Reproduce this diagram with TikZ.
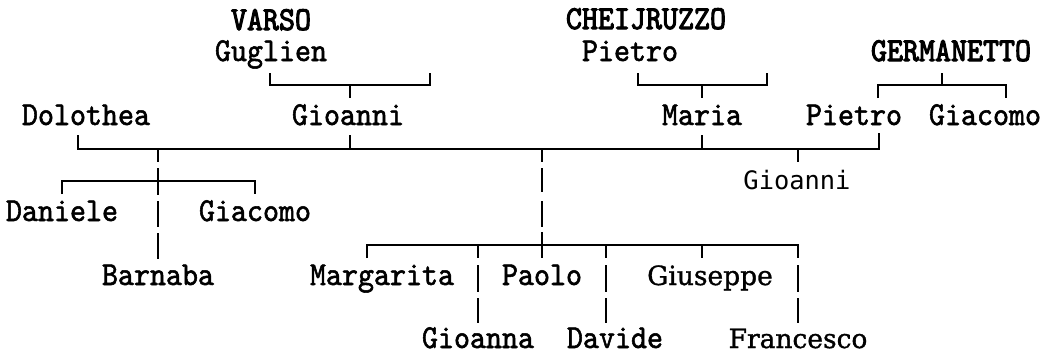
\documentclass[tikz,border=0pt]{standalone}
\usepackage{fontspec}
\newfontfamily\lblmono{lmmono10-regular.otf}[FakeBold=1.6, FakeStretch=0.91]
\newfontfamily\lblcaps{lmmono10-regular.otf}[FakeBold=3, FakeStretch=0.91]
\newfontfamily\lblsans{DejaVu Sans Mono}
\newfontfamily\lblserif{DejaVu Serif}[FakeBold=1.2]
\tikzset{
  lbl/.style={anchor=base, inner sep=0pt, font=\lblmono\fontsize{33.5}{38}\selectfont},
  capslbl/.style={anchor=base, inner sep=0pt, font=\lblcaps\fontsize{33.5}{38}\selectfont},
  sanslbl/.style={anchor=base, inner sep=0pt, font=\lblsans\fontsize{25.4}{30}\selectfont},
  seriflbl/.style={anchor=base, inner sep=0pt, font=\lblserif\fontsize{26.5}{30}\selectfont},
  ln/.style={line width=2pt, line join=miter}
}
\begin{document}
\begin{tikzpicture}[x=1pt,y=-1pt]
\useasboundingbox (0,0) rectangle (1048,354);
% names
\node[capslbl] (varso) at (271,30) {VARSO};
\node[lbl] (guglien) at (271,61) {Guglien};
\node[capslbl] (cheij) at (646,29) {CHEIJRUZZO};
\node[lbl] (pietroC) at (630,61) {Pietro};
\node[capslbl] (germ) at (951,61) {GERMANETTO};
\node[lbl] (dolothea) at (86,125) {Dolothea};
\node[lbl] (gioanniV) at (348,125) {Gioanni};
\node[lbl] (maria) at (702,125) {Maria};
\node[lbl] (pietroG) at (854,125) {Pietro};
\node[lbl] (giacomoG) at (985,125) {Giacomo};
\node[sanslbl] (gioanniL) at (797,189) {Gioanni};
\node[lbl] (daniele) at (62,221) {Daniele};
\node[lbl] (giacomoD) at (255,221) {Giacomo};
\node[lbl] (barnaba) at (158,285) {Barnaba};
\node[lbl] (margarita) at (382,285) {Margarita};
\node[lbl] (paolo) at (542,285) {Paolo};
\node[seriflbl] (giuseppe) at (710,285) {Giuseppe};
\node[lbl] (gioanna) at (478,348) {Gioanna};
\node[lbl] (davide) at (615,348) {Davide};
\node[seriflbl] (francesco) at (798,348) {Francesco};
% connector points
\coordinate (gA) at (270,73); \coordinate (gB) at (430,73);
\coordinate (pA) at (638,73); \coordinate (pB) at (767,73);
\coordinate (eT) at (942,73);
% VARSO
\draw[ln] (gA) -- (270,85) -- (430,85) -- (gB);
\draw[ln] (350,85) -- (350,98);
% CHEIJRUZZO
\draw[ln] (pA) -- (638,85) -- (767,85) -- (pB);
\draw[ln] (702,85) -- (702,98);
% GERMANETTO
\draw[ln] (eT) -- (942,85);
\draw[ln] (878,98) -- (878,85) -- (1006,85) -- (1006,98);
% main marriage line
\draw[ln] (78,135) -- (78,149) -- (879,149) -- (879,133);
\draw[ln] (350,135) -- (350,149);
\draw[ln] (702,135) -- (702,149);
\draw[ln] (798,149) -- (798,162);
% Dolothea's line
\draw[ln] (158,149) -- (158,162);
\draw[ln] (158,168) -- (158,195);
\draw[ln] (62,194) -- (62,181) -- (255,181) -- (255,194);
\draw[ln] (158,201) -- (158,227);
\draw[ln] (158,233) -- (158,259);
% central line
\draw[ln] (542,149) -- (542,162);
\draw[ln] (542,168) -- (542,192);
\draw[ln] (542,201) -- (542,227);
\draw[ln] (542,232) -- (542,258);
% children bar
\draw[ln] (367,258) -- (367,245) -- (798,245) -- (798,258);
\draw[ln] (702,245) -- (702,258);
\foreach \xx in {478,606,798}{
  \draw[ln] (\xx,265) -- (\xx,292);
  \draw[ln] (\xx,298) -- (\xx,323);
}
\foreach \xx in {478,606}{
  \draw[ln] (\xx,245) -- (\xx,258);
}
\end{tikzpicture}
\end{document}
